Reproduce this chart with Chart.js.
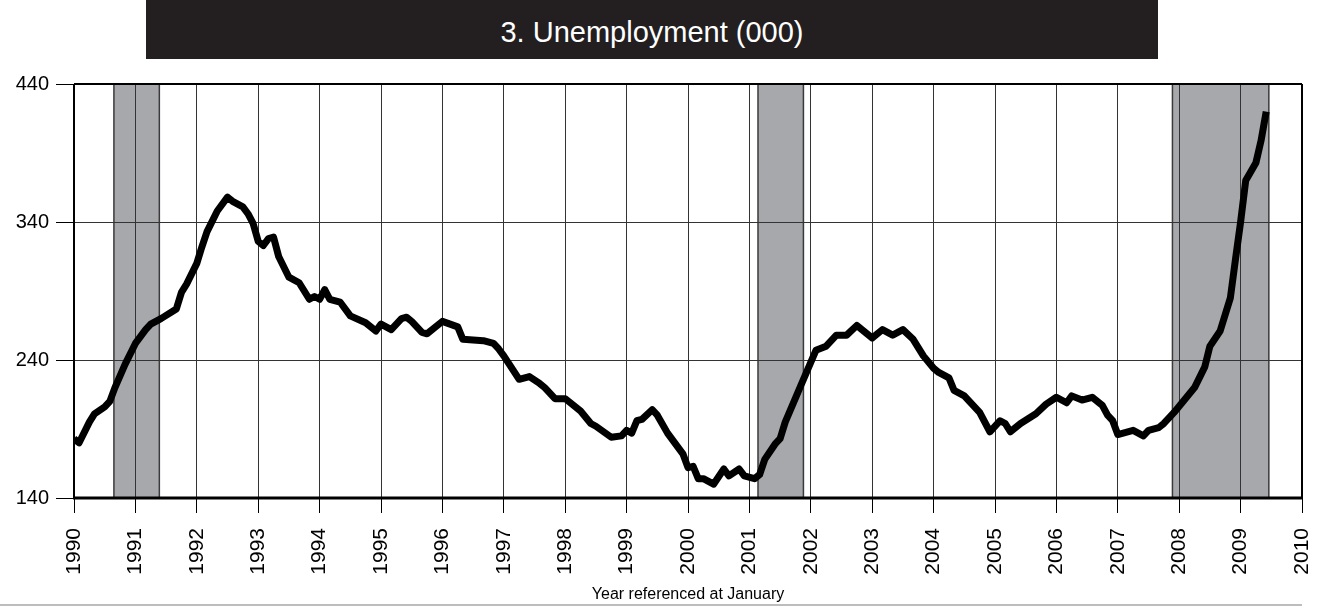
<!DOCTYPE html>
<html><head><meta charset="utf-8">
<script src="https://cdn.jsdelivr.net/npm/chart.js@4.4.1/dist/chart.umd.min.js"></script>
<style>
html,body{margin:0;padding:0;background:#fff;}
#wrap{position:relative;width:1324px;height:606px;overflow:hidden;background:#fff;}
#title{position:absolute;left:146px;top:0;width:1012px;height:59px;background:#231f20;color:#fff;font-family:"Liberation Sans",Arial,sans-serif;font-size:29px;display:flex;align-items:center;justify-content:center;padding-top:6px;box-sizing:border-box;}
canvas{position:absolute;left:0;top:0;}
</style></head><body>
<div id="wrap"><canvas id="c" width="1324" height="606"></canvas><div id="title">3. Unemployment (000)</div></div>
<script>
// Observation months (YYYY-MM) and unemployment in thousands
const months = [
"1990-01","1990-02","1990-04","1990-05","1990-07","1990-08","1990-09","1990-11",
"1991-01","1991-03","1991-04","1991-06","1991-09","1991-10","1991-11",
"1992-01","1992-02","1992-03","1992-05","1992-07","1992-08","1992-10","1992-11","1992-12",
"1993-01","1993-02","1993-03","1993-04","1993-05","1993-07","1993-09","1993-11","1993-12",
"1994-01","1994-02","1994-03","1994-05","1994-07","1994-10","1994-12",
"1995-01","1995-03","1995-05","1995-06","1995-07","1995-09","1995-10",
"1996-01","1996-04","1996-05","1996-09","1996-11","1996-12",
"1997-01","1997-04","1997-06","1997-08","1997-09","1997-11",
"1998-01","1998-04","1998-06","1998-07","1998-10","1998-12",
"1999-01","1999-02","1999-03","1999-04","1999-06","1999-07","1999-09","1999-12",
"2000-01","2000-02","2000-03","2000-04","2000-06","2000-08","2000-09","2000-11","2000-12",
"2001-02","2001-03","2001-04","2001-06","2001-07","2001-08","2001-11",
"2002-02","2002-04","2002-06","2002-08","2002-10",
"2003-01","2003-03","2003-05","2003-07","2003-09","2003-11",
"2004-01","2004-02","2004-04","2004-05","2004-07","2004-10","2004-12",
"2005-02","2005-03","2005-04","2005-06","2005-09","2005-11",
"2006-01","2006-03","2006-04","2006-06","2006-08","2006-10","2006-11","2006-12",
"2007-01","2007-04","2007-06","2007-07","2007-09","2007-10","2007-12",
"2008-04","2008-06","2008-07","2008-09","2008-11","2008-12",
"2009-01","2009-02","2009-04","2009-05","2009-06"
];
const unemployment = [
183,180,195,201,206,210,220,237,
252,262,266,270,277,289,295,
310,322,333,348,358,355,351,346,339,
326,323,328,329,315,300,296,284,286,
284,291,284,282,272,267,261,
266,262,270,271,268,260,259,
268,264,255,254,252,248,
243,226,228,223,220,212,
212,203,194,192,184,185,
189,187,196,197,204,200,187,172,
162,163,154,154,150,161,156,161,156,
154,157,168,179,183,195,221,
247,250,258,258,265,
256,262,258,262,255,243,
234,231,227,218,214,202,188,
196,194,188,194,201,208,
213,209,214,211,213,207,200,196,
186,189,185,189,191,194,202,
220,235,250,261,285,313,
340,370,383,399,420
];
const yTickValues = [140, 240, 340, 440];
const xTickYears = [1990,1991,1992,1993,1994,1995,1996,1997,1998,1999,2000,2001,2002,2003,2004,2005,2006,2007,2008,2009,2010];
const recessionStart = [1990.65, 2001.14, 2007.89];
const recessionEnd   = [1991.39, 2001.88, 2009.46];

const toYear = s => { const p = s.split('-').map(Number); return p[0] + (p[1] - 1) / 12; };
const points = months.map((m, i) => ({ x: toYear(m), y: unemployment[i] }));
const FONT = '"Liberation Sans", Arial, sans-serif';

const decor = {
  id: 'decor',
  beforeDraw(chart) {
    const { ctx, chartArea: a, scales: { x } } = chart;
    ctx.save();
    for (let i = 0; i < recessionStart.length; i++) {
      const x0 = x.getPixelForValue(recessionStart[i]);
      const x1 = x.getPixelForValue(recessionEnd[i]);
      ctx.fillStyle = '#a7a8ab';
      ctx.fillRect(x0, a.top, x1 - x0, a.bottom - a.top);
      ctx.strokeStyle = '#3a3a3a';
      ctx.lineWidth = 1.5;
      ctx.strokeRect(x0, a.top, x1 - x0, a.bottom - a.top);
    }
    ctx.restore();
  },
  afterDraw(chart) {
    const { ctx, chartArea: a } = chart;
    ctx.save();
    ctx.strokeStyle = '#000';
    ctx.lineWidth = 2;
    ctx.beginPath();
    ctx.moveTo(a.left, a.top); ctx.lineTo(a.right, a.top);
    ctx.moveTo(a.left, a.top); ctx.lineTo(a.left, a.bottom);
    ctx.moveTo(a.right, a.top); ctx.lineTo(a.right, a.bottom);
    ctx.stroke();
    ctx.lineWidth = 3;
    ctx.beginPath();
    ctx.moveTo(a.left - 1, a.bottom); ctx.lineTo(a.right + 1, a.bottom);
    ctx.stroke();
    ctx.fillStyle = '#bdbdbd';
    ctx.fillRect(0, 604, a.right, 2);
    ctx.restore();
  }
};

new Chart(document.getElementById('c'), {
  type: 'line',
  data: { datasets: [{
    data: points,
    borderColor: '#000',
    borderWidth: 7,
    pointRadius: 0,
    tension: 0,
    fill: false,
    borderJoinStyle: 'round'
  }]},
  options: {
    responsive: false,
    animation: false,
    devicePixelRatio: 1,
    layout: { padding: { top: 84, right: 22, left: 0, bottom: 0 } },
    plugins: { legend: { display: false }, tooltip: { enabled: false } },
    scales: {
      x: {
        type: 'linear', min: 1990, max: 2010,
        afterBuildTicks: s => { s.ticks = xTickYears.map(v => ({ value: v })); },
        afterFit: s => { s.height = 108; s.paddingLeft = 0; s.paddingRight = 0; },
        ticks: { minRotation: 90, maxRotation: 90, autoSkip: false, color: '#000', padding: 15,
                 font: { family: FONT, size: 21 }, callback: v => String(v) },
        grid: { color: '#333', lineWidth: 1, tickLength: 15, tickColor: '#000' },
        border: { display: false },
        title: { display: true, text: 'Year referenced at January', color: '#000',
                 font: { family: FONT, size: 16 }, padding: { top: 0, bottom: 2 } }
      },
      y: {
        type: 'linear', min: 140, max: 440,
        afterBuildTicks: s => { s.ticks = yTickValues.map(v => ({ value: v })); },
        afterFit: s => { s.width = 74; s.paddingTop = 0; s.paddingBottom = 0; },
        ticks: { color: '#000', padding: 7, font: { family: FONT, size: 20 } },
        grid: { color: '#333', lineWidth: 1, tickLength: 18, tickColor: '#000' },
        border: { display: false }
      }
    }
  },
  plugins: [decor]
});
</script>
</body></html>
